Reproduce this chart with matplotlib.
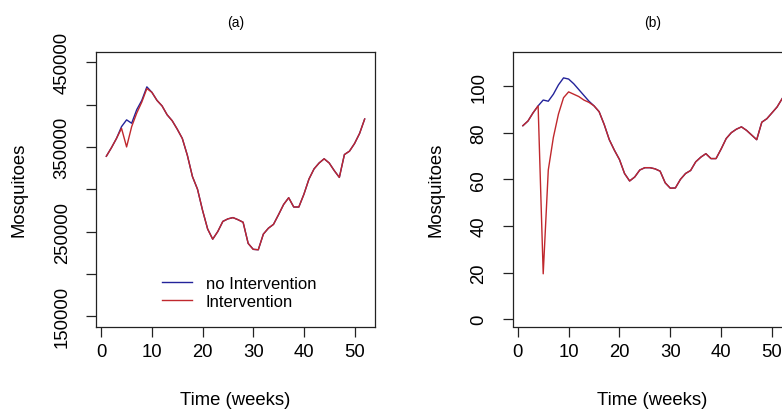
"""
Mosquito population with and without intervention, two scenarios side by side.
"""

import numpy as np
import matplotlib
matplotlib.use("Agg")
import matplotlib.pyplot as plt

plt.rcParams['font.family'] = ['Liberation Sans', 'DejaVu Sans']

# Data
weeks = np.arange(1, 53)

no_intervention_a = [339000, 349000, 360000, 374000, 382000, 378000, 394000, 405000,
                     421000, 414500, 405000, 398500, 388000, 381000, 371000, 360000,
                     340000, 315000, 300000, 275000, 253000, 241000, 250000, 262000,
                     265000, 266500, 264000, 261000, 236000, 229000, 228500, 247000,
                     254000, 258500, 270000, 282000, 290000, 279000, 279000, 294000,
                     312000, 324000, 331000, 336000, 331000, 322000, 314000, 341000,
                     345000, 354000, 366000, 383000]
intervention_a = [339000, 349000, 360000, 372000, 350000, 374000, 390000, 403000,
                  419000, 414500, 405000, 398500, 388000, 381000, 371000, 360000,
                  340000, 315000, 300000, 275000, 253000, 241000, 250000, 262000,
                  265000, 266500, 264000, 261000, 236000, 229000, 228500, 247000,
                  254000, 258500, 270000, 282000, 290000, 279000, 279000, 294000,
                  312000, 324000, 331000, 336000, 331000, 322000, 314000, 341000,
                  345000, 354000, 366000, 383000]

no_intervention_b = [83, 85, 88.5, 91.5, 94, 93.5, 96.5, 100.5, 103.5, 103, 101, 98.5,
                     96, 93.5, 91.5, 89, 83.5, 77, 72.5, 68.5, 62.5, 59.3, 61, 64,
                     65, 65, 64.5, 63.5, 58.5, 56.2, 56.3, 60, 62.5, 63.8, 67.5, 69.5,
                     71, 68.9, 68.9, 73, 77.5, 80, 81.5, 82.5, 81, 79, 77, 84.5,
                     86, 88.5, 91, 94.6]
intervention_b = [83, 85, 88.5, 91.5, 19.5, 64, 78, 88, 95, 97.5, 96.5, 95.5,
                  94, 93, 91.5, 89, 83.5, 77, 72.5, 68.5, 62.5, 59.3, 61, 64,
                  65, 65, 64.5, 63.5, 58.5, 56.2, 56.3, 60, 62.5, 63.8, 67.5, 69.5,
                  71, 68.9, 68.9, 73, 77.5, 80, 81.5, 82.5, 81, 79, 77, 84.5,
                  86, 88.5, 91, 94.6]

x_ticks = [0, 10, 20, 30, 40, 50]
y_ticks_a = [150000, 200000, 250000, 300000, 350000, 400000, 450000]
y_labels_a = ['150000', '', '250000', '', '350000', '', '450000']
y_ticks_b = [0, 20, 40, 60, 80, 100]

BLUE = '#23239a'
RED = '#c0282d'

W, H = 782, 414
fig = plt.figure(figsize=(W / 100, H / 100), dpi=100)


def style_axes(ax, title, xlab_y, ylab_x):
    """R-like base graphics look."""
    for sp in ax.spines.values():
        sp.set_linewidth(0.9)
        sp.set_color('#222222')
    ax.set_xlim(-1.04, 54.04)
    ax.set_xticks(x_ticks)
    ax.tick_params(axis='both', direction='out', length=7.2, width=0.9,
                   labelsize=13.3, color='#222222')
    ax.tick_params(axis='x', pad=4.5)
    ax.tick_params(axis='y', pad=11, labelrotation=90)
    for lab in ax.get_yticklabels():
        lab.set_va('center')
    ax.set_title(title, fontsize=10, pad=19)
    ax.set_xlabel('Time (weeks)', fontsize=13.3)
    ax.set_ylabel('Mosquitoes', fontsize=13.3)
    ax.xaxis.set_label_coords(0.5, xlab_y)
    ax.yaxis.set_label_coords(ylab_x, 0.5)


# (a) absolute numbers
ax1 = fig.add_axes([96 / W, 86.5 / H, 279 / W, 274.5 / H])
ax1.plot(weeks, no_intervention_a, color=BLUE, lw=1.0, label='no Intervention')
ax1.plot(weeks, intervention_a, color=RED, lw=1.0, label='Intervention')
ax1.set_ylim(137800, 462200)
ax1.set_yticks(y_ticks_a)
ax1.set_yticklabels(y_labels_a)
style_axes(ax1, '(a)', -0.235, -0.245)
ax1.legend(loc='upper left', bbox_to_anchor=(0.235, 0.185), frameon=False,
           fontsize=12, handlelength=1.8, handletextpad=0.85,
           borderpad=0, borderaxespad=0, labelspacing=0.2)

# (b) second scenario, axes runs past the right edge like the original
ax2 = fig.add_axes([512.5 / W, 86.5 / H, 280 / W, 274.5 / H])
ax2.plot(weeks, no_intervention_b, color=BLUE, lw=1.0)
ax2.plot(weeks, intervention_b, color=RED, lw=1.0)
ax2.set_ylim(-3.1, 114.6)
ax2.set_yticks(y_ticks_b)
style_axes(ax2, '(b)', -0.235, -0.242)

fig.savefig('out.png', dpi=100)
